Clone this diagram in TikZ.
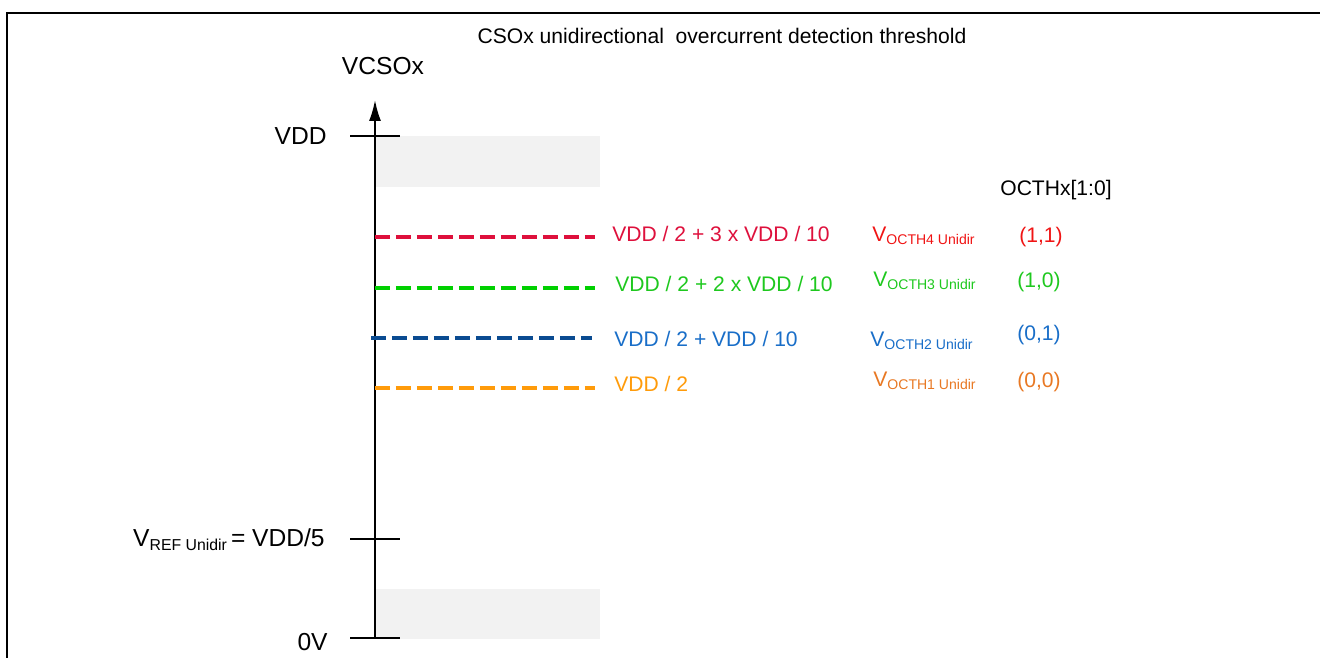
\documentclass[tikz,border=0pt]{standalone}
\usepackage{fontspec}
\setmainfont{Liberation Sans}
\usepackage{xcolor}
\usetikzlibrary{arrows.meta,positioning}
\definecolor{bandgray}{RGB}{242,242,242}
\definecolor{thrcrimson}{RGB}{222,16,60}
\definecolor{thrred}{RGB}{240,20,20}
\definecolor{thrgreen}{RGB}{0,208,0}
\definecolor{thrgreentxt}{RGB}{30,200,30}
\definecolor{thrnavy}{RGB}{10,75,145}
\definecolor{thrblue}{RGB}{25,110,200}
\definecolor{throrange}{RGB}{255,155,10}
\definecolor{throrangetxt}{RGB}{232,120,35}
\newcommand{\vocth}[1]{V\raisebox{-1.4pt}{\fontsize{8}{9}\selectfont OCTH#1 Unidir}}
\tikzset{
  frameline/.style={line width=0.9pt},
  vaxis/.style={line width=1.1pt,-{Latex[length=4.2mm,width=2.4mm]}},
  tickline/.style={line width=0.9pt},
  bandfill/.style={fill=bandgray,draw=none},
  thrline/.style={line width=2pt,dash pattern=on 0.3cm off 0.12cm},
  thrlab/.style={anchor=base west,inner sep=0pt,font=\fontsize{12}{14}\selectfont},
  axlab/.style={anchor=base east,inner sep=0pt,font=\fontsize{14}{16}\selectfont},
  headlab/.style={anchor=base,inner sep=0pt,font=\fontsize{12}{14}\selectfont}
}

\begin{document}
\begin{tikzpicture}[x=0.02cm,y=-0.02cm]
  \useasboundingbox (0,0) rectangle (1320,658);
  % frame (top and left only)
  \coordinate (fr1) at (1320,13);
  \coordinate (fr2) at (7,13);
  \coordinate (fr3) at (7,658);
  \draw[frameline] (fr1) -- (fr2) -- (fr3);
  \node[headlab] (title) at (722,43.5) {CSOx unidirectional \ overcurrent detection threshold};
  % gray bands
  \fill[bandfill] (375,136) rectangle (600,187);
  \fill[bandfill] (375,589) rectangle (600,639);
  % axis and ticks
  \coordinate (ax0) at (375,638);
  \coordinate (axtop) at (375,100);
  \draw[vaxis] (ax0) -- (axtop);
  \node[headlab,font=\fontsize{14}{16}\selectfont] (vcso) at (383,75) {VCSOx};
  \foreach \nm/\yy in {vdd/136,vref/539,zero/638}{
    \coordinate (\nm L) at (350,\yy);
    \coordinate (\nm R) at (400,\yy);
    \draw[tickline] (\nm L) -- (\nm R);
  }
  \node[axlab] (lvdd) at (327,145) {VDD};
  \node[axlab] (lvref) at (325,547) {V\raisebox{-2pt}{\fontsize{9}{11}\selectfont REF Unidir}\,= VDD/5};
  \node[axlab] (lzero) at (328,651) {0V};
  % thresholds
  \node[headlab,anchor=base west] (octh) at (1000,196) {OCTHx[1:0]};
  \foreach \nm/\yy/\xa/\xb/\ys/\xs/\lc/\tc/\txt in {
      th4/237/375/595/242/612/thrcrimson/thrcrimson/{VDD / 2 + 3 x VDD / 10},
      th3/288/375/595/292/615/thrgreen/thrgreentxt/{VDD / 2 + 2 x VDD / 10},
      th2/338/371/592/347/614/thrnavy/thrblue/{VDD / 2 + VDD / 10},
      th1/388/375/595/392/614/throrange/throrange/{VDD / 2}}{
    \coordinate (\nm a) at (\xa,\yy);
    \coordinate (\nm b) at (\xb,\yy);
    \draw[thrline,\lc] (\nm a) -- (\nm b);
    \node[thrlab,text=\tc] (\nm lab) at (\xs,\ys) {\txt};
  }
  \node[thrlab,text=thrred] (v4) at (872,242) {\vocth{4}};
  \node[thrlab,text=thrgreentxt] (v3) at (873,287) {\vocth{3}};
  \node[thrlab,text=thrblue] (v2) at (870,347) {\vocth{2}};
  \node[thrlab,text=throrangetxt] (v1) at (873,387) {\vocth{1}};
  \node[thrlab,text=thrred] (c4) at (1019,243) {(1,1)};
  \node[thrlab,text=thrgreentxt] (c3) at (1017,288) {(1,0)};
  \node[thrlab,text=thrblue] (c2) at (1017,341) {(0,1)};
  \node[thrlab,text=throrangetxt] (c1) at (1017,388) {(0,0)};
\end{tikzpicture}
\end{document}
